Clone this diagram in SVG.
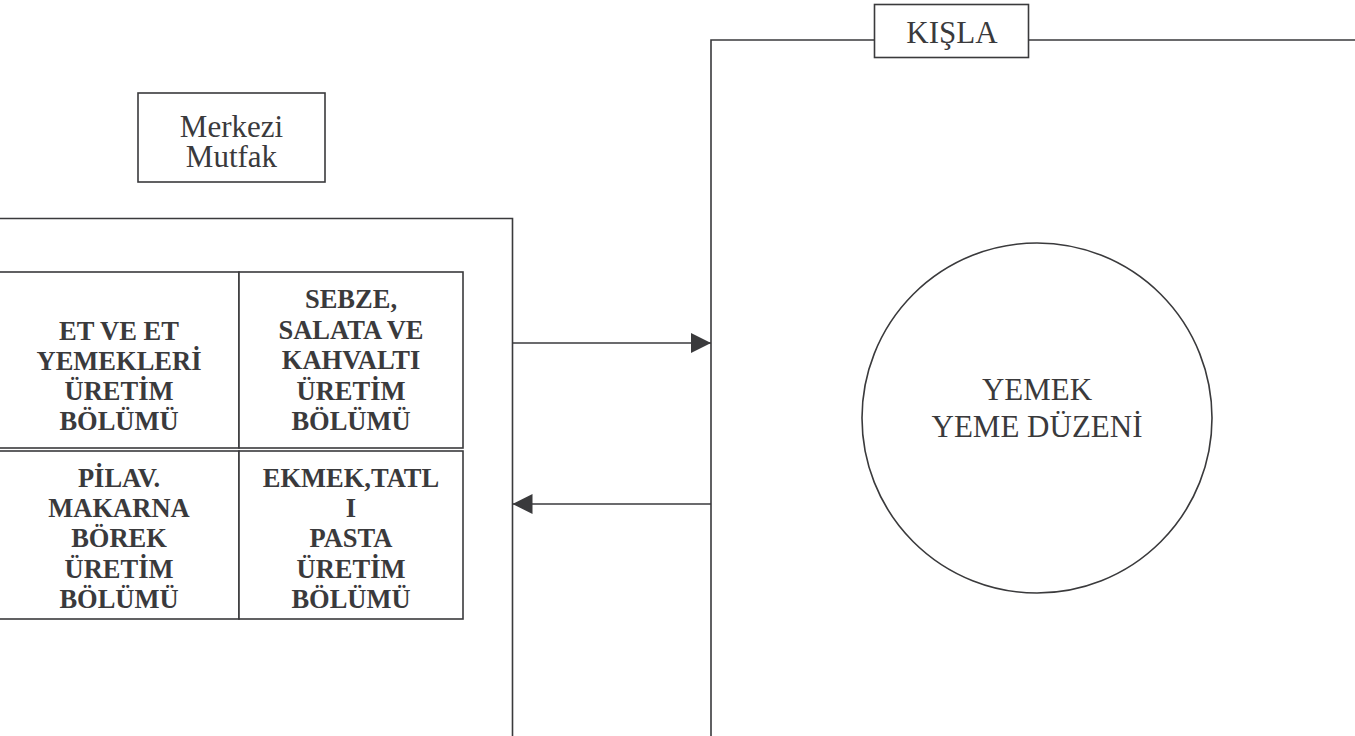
<svg xmlns="http://www.w3.org/2000/svg" width="1355" height="736" viewBox="0 0 1355 736">
  <style>
    .box { fill: #fff; stroke: #3a3a3c; stroke-width: 1.6; }
    .frame { fill: none; stroke: #3a3a3c; stroke-width: 1.6; }
    .lbl { font-family: "Liberation Serif", "Times New Roman", serif; font-size: 31px; fill: #3a3a3c; text-anchor: middle; }
    .unit { font-family: "Liberation Serif", "Times New Roman", serif; font-size: 26.5px; font-weight: bold; fill: #3a3a3c; text-anchor: middle; }
    .conn { stroke: #3a3a3c; stroke-width: 1.6; fill: none; }
  </style>
  <defs>
    <marker id="arrow" markerWidth="20" markerHeight="20" refX="20" refY="10" orient="auto" markerUnits="userSpaceOnUse">
      <path d="M0,0 L20,10 L0,20 Z" fill="#3a3a3c"/>
    </marker>
  </defs>
  <rect width="1355" height="736" fill="#fff"/>

  <!-- Central kitchen -->
  <g id="merkezi-mutfak">
    <rect class="box" x="138" y="93" width="187" height="89"/>
    <text class="lbl" x="231.5" y="137">Merkezi</text>
    <text class="lbl" x="231.5" y="167">Mutfak</text>
  </g>

  <g id="mutfak-alani">
    <path class="frame" d="M-5,218.5 H512.5 V740"/>
  </g>

  <!-- Production units -->
  <g id="et-bolumu">
    <rect class="box" x="-2" y="272" width="241" height="176"/>
    <text class="unit" x="119" y="340">ET VE ET</text>
    <text class="unit" x="119" y="370">YEMEKLERİ</text>
    <text class="unit" x="119" y="400">ÜRETİM</text>
    <text class="unit" x="119" y="430">BÖLÜMÜ</text>
  </g>
  <g id="sebze-bolumu">
    <rect class="box" x="239" y="272" width="224" height="176"/>
    <text class="unit" x="351" y="308">SEBZE,</text>
    <text class="unit" x="351" y="339">SALATA VE</text>
    <text class="unit" x="351" y="369">KAHVALTI</text>
    <text class="unit" x="351" y="399.5">ÜRETİM</text>
    <text class="unit" x="351" y="430">BÖLÜMÜ</text>
  </g>
  <g id="pilav-bolumu">
    <rect class="box" x="-2" y="451" width="241" height="168"/>
    <text class="unit" x="119" y="487">PİLAV.</text>
    <text class="unit" x="119" y="517">MAKARNA</text>
    <text class="unit" x="119" y="547">BÖREK</text>
    <text class="unit" x="119" y="578">ÜRETİM</text>
    <text class="unit" x="119" y="608">BÖLÜMÜ</text>
  </g>
  <g id="ekmek-bolumu">
    <rect class="box" x="239" y="451" width="224" height="168"/>
    <text class="unit" x="351" y="487">EKMEK,TATL</text>
    <text class="unit" x="351" y="517">I</text>
    <text class="unit" x="351" y="547">PASTA</text>
    <text class="unit" x="351" y="578">ÜRETİM</text>
    <text class="unit" x="351" y="608">BÖLÜMÜ</text>
  </g>

  <!-- Barracks -->
  <g id="kisla">
    <path class="frame" d="M711,740 V40 H874 M1029,40 H1360"/>
    <rect class="box" x="874.5" y="4.5" width="154" height="53"/>
    <text class="lbl" x="952" y="43" font-size="29">KIŞLA</text>
  </g>

  <g id="yemek-duzeni">
    <circle class="box" cx="1037" cy="418" r="175"/>
    <text class="lbl" x="1037" y="400">YEMEK</text>
    <text class="lbl" x="1037" y="437">YEME DÜZENİ</text>
  </g>

  <!-- Flows between kitchen and barracks -->
  <g id="connectors">
    <line class="conn" x1="512.5" y1="343" x2="711" y2="343" marker-end="url(#arrow)"/>
    <line class="conn" x1="711" y1="504" x2="512.5" y2="504" marker-end="url(#arrow)"/>
  </g>
</svg>
